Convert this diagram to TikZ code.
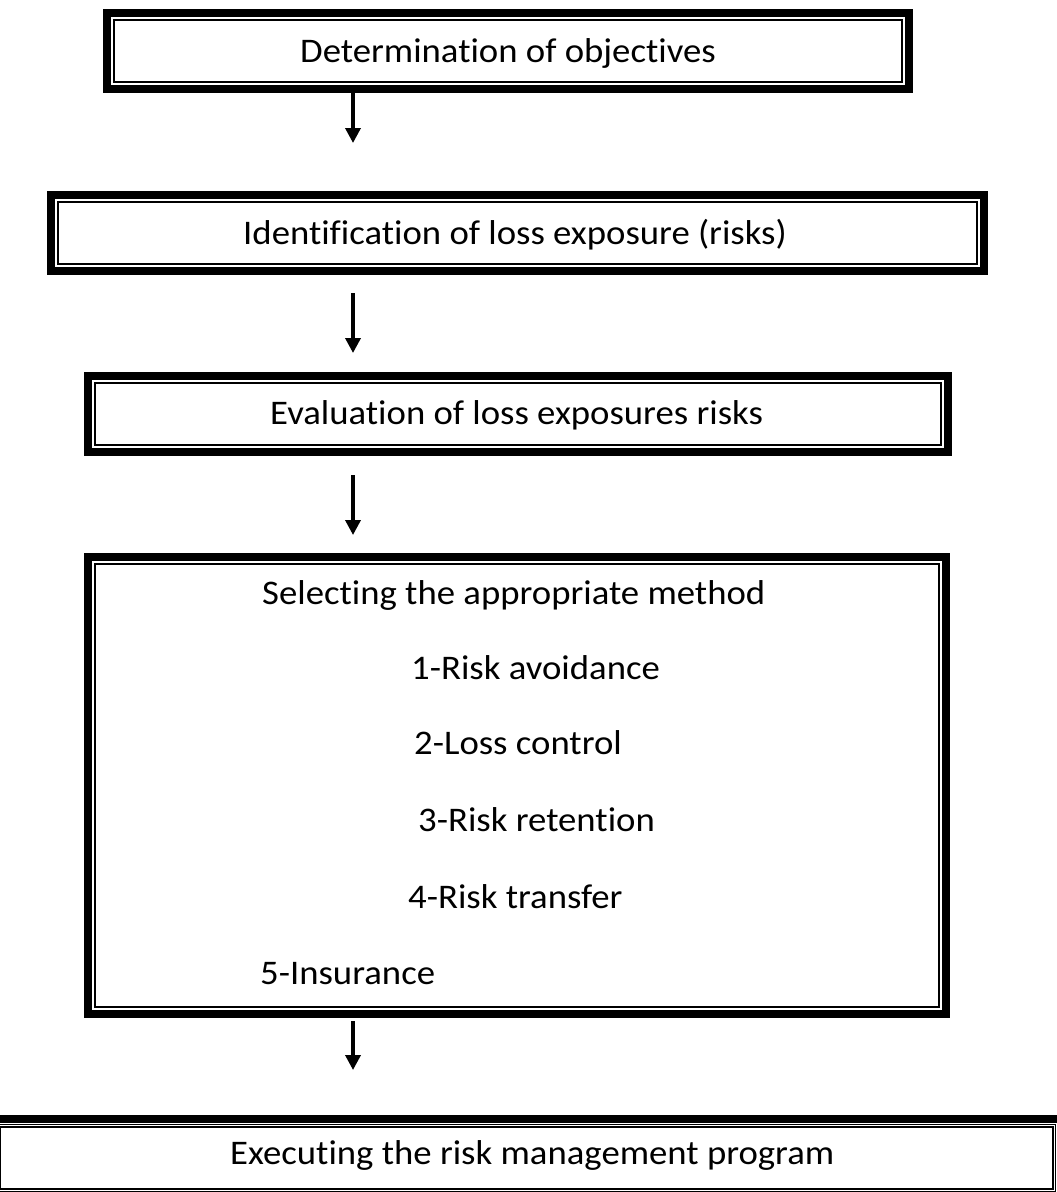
\documentclass[tikz,border=0pt]{standalone}
\usepackage{fontspec}
\setmainfont{Carlito}[FakeStretch=1.065, Ligatures=NoCommon]
\usetikzlibrary{positioning, arrows.meta}

\begin{document}
\begin{tikzpicture}[x=1pt, y=-1pt,
        stage/.style={draw, line width=8pt, inner sep=0pt, outer sep=0pt},
        rim/.style={line width=2pt},
        txt/.style={anchor=base west, inner sep=0pt, font=\fontsize{34.5}{40}\selectfont},
        flow/.style={line width=3.5pt, -{Triangle[width=15pt,length=15pt]}}]
        \useasboundingbox (0,0) rectangle (1057,1192);
        \clip (0,0) rectangle (1057,1192);
        \coordinate (ax) at (353,0);

        % boxes
        \node[stage, minimum width=802pt, minimum height=76pt] (b1) at (508,51) {};
        \node[stage, minimum width=933pt, minimum height=76pt] (b2) at (517.5,233) {};
        \node[stage, minimum width=860pt, minimum height=76pt] (b3) at (518,414) {};
        \node[stage, minimum width=858pt, minimum height=457pt] (b4) at (517,785.5) {};
        \node[stage, minimum width=1069pt, minimum height=78pt] (b5) at (526.5,1158) {};

        \draw[rim] ([shift={(7pt,-7pt)}]b1.north west) rectangle ([shift={(-7pt,7pt)}]b1.south east);
        \draw[rim] ([shift={(7pt,-7pt)}]b2.north west) rectangle ([shift={(-7pt,7pt)}]b2.south east);
        \draw[rim] ([shift={(7pt,-7pt)}]b3.north west) rectangle ([shift={(-7pt,7pt)}]b3.south east);
        \draw[rim] ([shift={(7pt,-7pt)}]b4.north west) rectangle ([shift={(-7pt,7pt)}]b4.south east);
        \draw[line width=1.2pt] ([shift={(5.3pt,-5.3pt)}]b5.north west) rectangle ([shift={(-5.3pt,5.3pt)}]b5.south east);
        \draw[line width=1.8pt] ([shift={(8pt,-8pt)}]b5.north west) rectangle ([shift={(-8pt,8pt)}]b5.south east);

        % labels
        \node[txt] (t1) at (300,62) {Determination of objectives};
        \node[txt] (t2) at (243,244) {Identification of loss exposure (risks)};
        \node[txt] (t3) at (270,424) {Evaluation of loss exposures risks};
        \node[txt] (t4) at (262,604) {Selecting the appropriate method};
        \node[txt] (m1) at (411,679) {1-Risk avoidance};
        \node[txt] (m2) at (414,754) {2-Loss control};
        \node[txt] (m3) at (418,831) {3-Risk retention};
        \node[txt] (m4) at (408,908) {4-Risk transfer};
        \node[txt] (m5) at (260,984) {5-Insurance};
        \node[txt] (t5) at (230,1164) {Executing the risk management program};

        % arrows
        \draw[flow, shorten >=52pt] (b1.south -| ax) -- (b2.north -| ax);
        \draw[flow, shorten <=22pt, shorten >=23pt] (b2.south -| ax) -- (b3.north -| ax);
        \draw[flow, shorten <=23pt, shorten >=22pt] (b3.south -| ax) -- (b4.north -| ax);
        \draw[flow, shorten <=7pt, shorten >=49pt] (b4.south -| ax) -- (b5.north -| ax);
\end{tikzpicture}
\end{document}
